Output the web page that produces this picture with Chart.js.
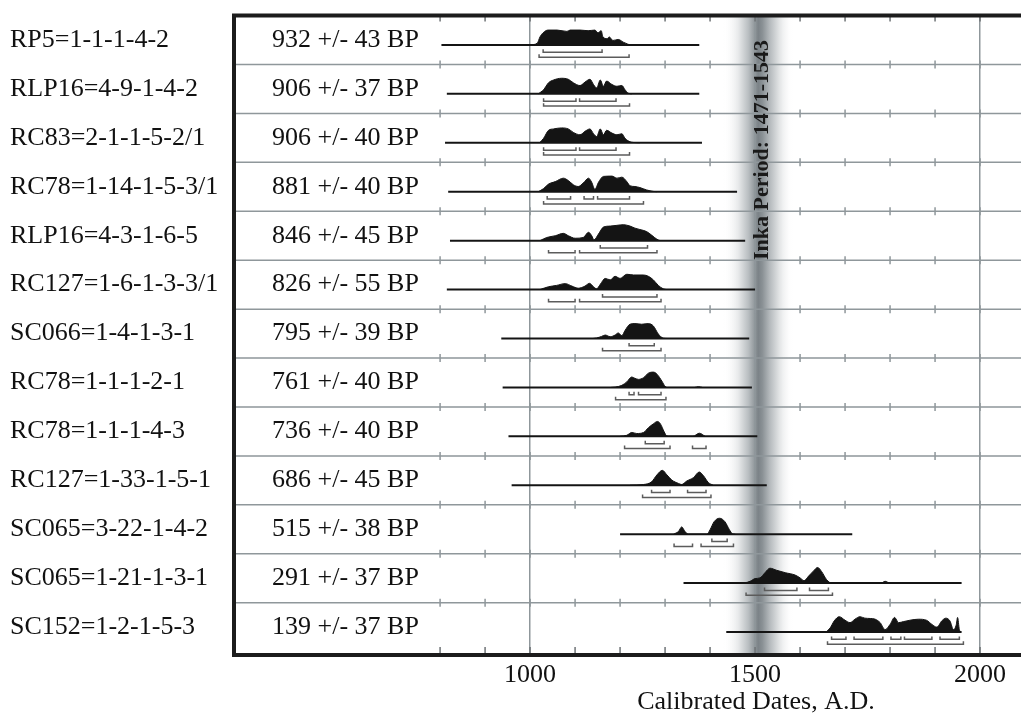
<!DOCTYPE html>
<html>
<head>
<meta charset="utf-8">
<title>Calibrated radiocarbon dates</title>
<script src="https://cdn.jsdelivr.net/npm/chart.js@4.4.1/dist/chart.umd.min.js"></script>
<style>
  html, body { margin: 0; padding: 0; background: #fff; overflow: hidden; }
  canvas { display: block; }
</style>
</head>
<body>
<canvas id="chart" width="1021" height="717"></canvas>
<script>
// ---- data ----
const SAMPLES = [
  'RP5=1-1-1-4-2', 'RLP16=4-9-1-4-2', 'RC83=2-1-1-5-2/1', 'RC78=1-14-1-5-3/1',
  'RLP16=4-3-1-6-5', 'RC127=1-6-1-3-3/1', 'SC066=1-4-1-3-1', 'RC78=1-1-1-2-1',
  'RC78=1-1-1-4-3', 'RC127=1-33-1-5-1', 'SC065=3-22-1-4-2', 'SC065=1-21-1-3-1',
  'SC152=1-2-1-5-3'
];
const BP_AGES = [932, 906, 906, 881, 846, 826, 795, 761, 736, 686, 515, 291, 139];
const BP_ERRORS = [43, 37, 40, 40, 45, 55, 39, 40, 40, 45, 38, 37, 37];

// extent of the calibration baseline for each sample (cal AD)
const LINE_SPANS = [
  [803, 1376], [815, 1376], [811, 1382], [818, 1460], [822, 1478], [815, 1500],
  [936, 1487], [939, 1493], [952, 1505], [959, 1526], [1200, 1716], [1341, 1959],
  [1436, 1959]
];

// calibrated probability, [year AD, relative probability]
const DENSITIES = [
  [[1000,0],[1016,1.7],[1022,7.7],[1029,11.7],[1040,14.3],[1060,14.3],[1082,13],[1089,14.3],[1111,14.3],[1129,13.7],[1144,14.3],[1151,11.7],[1158,13.7],[1162,7.7],[1171,6],[1176,7.7],[1184,4.3],[1196,5.3],[1207,2.7],[1216,1],[1222,0]],
  [[1018,0],[1030,4],[1041,10.7],[1052,13.3],[1070,15],[1085,14],[1096,10.7],[1111,8],[1122,11.3],[1133,14],[1141,9],[1148,5.7],[1156,13.3],[1163,7.3],[1170,12.3],[1182,9],[1193,7.3],[1204,8],[1211,4],[1218,0.7],[1226,0]],
  [[1021,0],[1030,4.3],[1041,12],[1052,13.3],[1070,14.3],[1085,13.3],[1096,10],[1111,7.7],[1122,11],[1133,13.3],[1141,8.7],[1148,6],[1156,13.3],[1163,7.7],[1170,12],[1182,9.3],[1193,7.7],[1204,8.7],[1211,4.3],[1222,1],[1230,0.3],[1244,0]],
  [[1018,0],[1030,3],[1041,7.3],[1056,9.7],[1074,13],[1085,10.7],[1096,6.7],[1107,5],[1118,8.3],[1130,13],[1137,9],[1144,2.3],[1152,9],[1163,14.7],[1182,15],[1193,13],[1204,14],[1215,9.7],[1222,5.7],[1233,5],[1244,4],[1259,1.7],[1274,0.3],[1282,0]],
  [[1022,0],[1037,3],[1056,4.7],[1074,7],[1085,4.7],[1100,2.3],[1118,3],[1130,8],[1137,4.7],[1142,0.7],[1152,6.3],[1163,13],[1178,14],[1193,14.7],[1207,15.3],[1222,14],[1233,12],[1244,10.7],[1259,8.7],[1270,5.3],[1282,1.3],[1289,0]],
  [[1022,0],[1041,2.7],[1059,4],[1078,5.7],[1093,3.3],[1107,1.3],[1122,3.3],[1132,6],[1141,2.7],[1148,0.7],[1156,5],[1167,10.7],[1178,9.3],[1189,12.7],[1200,10.7],[1215,14.7],[1230,14],[1252,14],[1263,12.7],[1274,9.3],[1285,4],[1296,0.7],[1304,0]],
  [[1140,0],[1148,0.5],[1159,2],[1167,3.3],[1178,1.7],[1189,3.3],[1196,5.3],[1204,2.7],[1211,7.7],[1222,13.7],[1233,14.3],[1248,13.7],[1263,14.3],[1274,12],[1285,4.3],[1296,0.3],[1304,0]],
  [[1180,0],[1189,0.3],[1204,2],[1215,5.3],[1226,10],[1233,8.7],[1241,7.7],[1252,9.3],[1263,13.7],[1274,14.7],[1282,12.7],[1293,6],[1300,1],[1305,0],[1365,0],[1374,0.7],[1383,0]],
  [[1200,0],[1215,1],[1226,3.7],[1237,2.7],[1252,3.7],[1263,8.3],[1274,12],[1283,14.3],[1290,11.7],[1298,4.3],[1304,0.3],[1311,0],[1362,0],[1376,3],[1389,0]],
  [[1222,0],[1252,0.7],[1270,3.3],[1282,10],[1294,14.3],[1304,10],[1315,5],[1330,1.7],[1337,0.7],[1348,4],[1363,7.3],[1376,12.7],[1385,9.3],[1396,2.7],[1407,0]],
  [[1319,0],[1330,2.7],[1337,7],[1344,2.7],[1352,0],[1393,0],[1400,4.3],[1409,12],[1421,15.3],[1433,12],[1443,4.3],[1450,0.3],[1456,0]],
  [[1470,0],[1478,0.3],[1489,1.7],[1500,4.3],[1511,5],[1522,10],[1533,14.3],[1548,12.3],[1567,10],[1589,7.7],[1600,5],[1609,2.3],[1619,6.7],[1630,11.7],[1639,15],[1648,11],[1659,3.3],[1670,0],[1780,0],[1789,1.7],[1798,0]],
  [[1658,0],[1667,4],[1676,10.7],[1687,14.7],[1700,11.3],[1711,9],[1722,12.3],[1733,14.7],[1744,13.3],[1756,13],[1767,12.3],[1778,9],[1789,2.3],[1800,7.3],[1810,14],[1819,9],[1830,10],[1844,11.3],[1863,12.3],[1881,11.3],[1893,7.3],[1904,4.7],[1915,10.7],[1924,13.3],[1933,10.7],[1941,2.3],[1947,6.7],[1950,14],[1954,2.3],[1957,0]]
];

// 1 sigma and 2 sigma calibrated ranges
const SIGMA1 = [
  [[1029,1160]], [[1030,1102],[1110,1191]], [[1030,1102],[1110,1191]],
  [[1038,1090],[1120,1141],[1150,1221]], [[1156,1261]], [[1161,1282]],
  [[1220,1276]], [[1220,1231],[1241,1291]], [[1256,1298]],
  [[1270,1311],[1350,1391]], [[1404,1438]], [[1521,1593],[1621,1663]],
  [[1670,1702],[1720,1784],[1802,1824],[1832,1893],[1911,1954]]
];
const SIGMA2 = [
  [[1020,1220]], [[1030,1221]], [[1030,1221]], [[1030,1252]],
  [[1041,1100],[1110,1282]], [[1041,1100],[1110,1291]], [[1161,1291]],
  [[1190,1302]], [[1210,1311],[1361,1391]], [[1250,1402]],
  [[1320,1361],[1380,1452]], [[1480,1672]], [[1661,1963]]
];

const X_LABEL_YEARS = [1000, 1500, 2000];
const MINOR_YEARS = [800, 900, 1000, 1100, 1200, 1300, 1400, 1500, 1600, 1700, 1800, 1900, 2000];
const INKA_PERIOD = [1471, 1543];

// ---- layout / style ----
const X_MIN = 342, X_MAX = 2091;
const Y_MAX = 13.07;
const BASE_OFFSET = 0.6;      // baseline position inside a row
const DENSITY_SCALE = 1 / 47;
const SIGMA1_OFFSET = 0.15, SIGMA2_OFFSET = 0.25, BRACKET_TICK = 0.06;
const GRID = '#8f979b';
const INK = '#141414';
const SERIF = '"Liberation Serif", "Times New Roman", serif';

Chart.defaults.font.family = SERIF;

function bracket(ranges, y) {
  const pts = [];
  ranges.forEach(([a, b]) => {
    pts.push({x: a, y: y - BRACKET_TICK}, {x: a, y: y}, {x: b, y: y}, {x: b, y: y - BRACKET_TICK}, {x: b, y: null});
  });
  return {data: pts, borderColor: '#5c5c5c', borderWidth: 1.5, pointRadius: 0, spanGaps: false, fill: false, order: 1};
}

const datasets = [];
SAMPLES.forEach((name, i) => {
  const base = i + BASE_OFFSET;
  datasets.push({
    data: [{x: LINE_SPANS[i][0], y: base}, {x: LINE_SPANS[i][1], y: base}],
    borderColor: INK, borderWidth: 2, pointRadius: 0, fill: false, order: 2
  });
  datasets.push({
    data: DENSITIES[i].map(([yr, p]) => ({x: yr, y: base - p * DENSITY_SCALE})),
    fill: {value: base},
    backgroundColor: INK, borderColor: INK, borderWidth: 1,
    pointRadius: 0, cubicInterpolationMode: 'monotone', order: 0
  });
  datasets.push(bracket(SIGMA1[i], base + SIGMA1_OFFSET));
  datasets.push(bracket(SIGMA2[i], base + SIGMA2_OFFSET));
});

const decorations = {
  id: 'decorations',
  beforeDraw(chart) {
    // Inka period shading
    const {ctx, chartArea: a, scales: {x}} = chart;
    const x0 = x.getPixelForValue(INKA_PERIOD[0] - 42);
    const x1 = x.getPixelForValue(INKA_PERIOD[1] + 42);
    const g = ctx.createLinearGradient(x0, 0, x1, 0);
    g.addColorStop(0, 'rgba(255,255,255,0)');
    g.addColorStop(0.22, '#e6e8e9');
    g.addColorStop(0.36, '#b9bec1');
    g.addColorStop(0.46, '#8c9397');
    g.addColorStop(0.5, '#7b8287');
    g.addColorStop(0.56, '#8a9195');
    g.addColorStop(0.66, '#b3b8bb');
    g.addColorStop(0.8, '#e2e4e5');
    g.addColorStop(1, 'rgba(255,255,255,0)');
    ctx.save();
    ctx.fillStyle = g;
    ctx.fillRect(x0, a.top, x1 - x0, a.bottom - a.top);
    ctx.restore();
  },
  afterDatasetsDraw(chart) {
    const {ctx, chartArea: a, scales: {x, y}} = chart;
    ctx.save();
    // row separators with century ticks
    ctx.strokeStyle = GRID;
    ctx.lineWidth = 1.5;
    for (let r = 1; r < SAMPLES.length; r++) {
      const py = y.getPixelForValue(r);
      ctx.beginPath();
      ctx.moveTo(a.left, py);
      ctx.lineTo(a.right, py);
      MINOR_YEARS.forEach(yr => {
        const px = x.getPixelForValue(yr);
        ctx.moveTo(px, py - 4);
        ctx.lineTo(px, py + 4);
      });
      ctx.stroke();
    }
    ctx.beginPath();
    MINOR_YEARS.forEach(yr => {
      const px = x.getPixelForValue(yr);
      ctx.moveTo(px, a.top);
      ctx.lineTo(px, a.top + 6);
      ctx.moveTo(px, a.bottom - 8);
      ctx.lineTo(px, a.bottom);
    });
    ctx.strokeStyle = '#6f7477';
    ctx.stroke();

    // frame
    ctx.strokeStyle = '#1c1c1c';
    ctx.lineWidth = 4;
    ctx.beginPath();
    ctx.moveTo(a.right, a.top);
    ctx.lineTo(a.left, a.top);
    ctx.lineTo(a.left, a.bottom);
    ctx.lineTo(a.right, a.bottom);
    ctx.stroke();

    // BP ages
    ctx.fillStyle = '#111';
    ctx.font = '26px ' + SERIF;
    ctx.textAlign = 'left';
    ctx.textBaseline = 'middle';
    SAMPLES.forEach((name, i) => {
      ctx.fillText(BP_AGES[i] + ' +/- ' + BP_ERRORS[i] + ' BP', a.left + 38, y.getPixelForValue(i + 0.5));
    });

    // Inka period label
    ctx.save();
    ctx.translate(x.getPixelForValue((INKA_PERIOD[0] + INKA_PERIOD[1]) / 2) + 10, 150);
    ctx.rotate(-Math.PI / 2);
    ctx.font = 'bold 22px ' + SERIF;
    ctx.textAlign = 'center';
    ctx.textBaseline = 'alphabetic';
    ctx.fillStyle = '#1a1a1a';
    ctx.fillText('Inka Period: ' + INKA_PERIOD[0] + '-' + INKA_PERIOD[1], 0, 0);
    ctx.restore();

    // axis title
    ctx.font = '26px ' + SERIF;
    ctx.textAlign = 'center';
    ctx.textBaseline = 'alphabetic';
    ctx.fillText('Calibrated Dates, A.D.', 756, 709);
    ctx.restore();
  }
};

new Chart(document.getElementById('chart'), {
  type: 'line',
  data: {datasets},
  options: {
    responsive: false,
    animation: false,
    events: [],
    layout: {padding: {left: 10, top: 12, right: 0, bottom: 0}},
    plugins: {legend: {display: false}, tooltip: {enabled: false}},
    scales: {
      x: {
        type: 'linear', min: X_MIN, max: X_MAX,
        afterBuildTicks: s => { s.ticks = X_LABEL_YEARS.map(v => ({value: v})); },
        afterFit: s => { s.height = 62; },
        grid: {color: GRID, lineWidth: 1.5, drawTicks: false},
        border: {display: false},
        ticks: {padding: 5, color: '#111', font: {size: 26}, callback: v => String(v)}
      },
      y: {
        type: 'linear', reverse: true, min: 0, max: Y_MAX,
        afterBuildTicks: s => { s.ticks = SAMPLES.map((_, i) => ({value: i + 0.5})); },
        afterFit: s => { s.width = 224; },
        grid: {display: false},
        border: {display: false},
        ticks: {autoSkip: false, crossAlign: 'far', padding: 0, color: '#111', font: {size: 26}, callback: (v, i) => SAMPLES[i]}
      }
    }
  },
  plugins: [decorations]
});
</script>
</body>
</html>
